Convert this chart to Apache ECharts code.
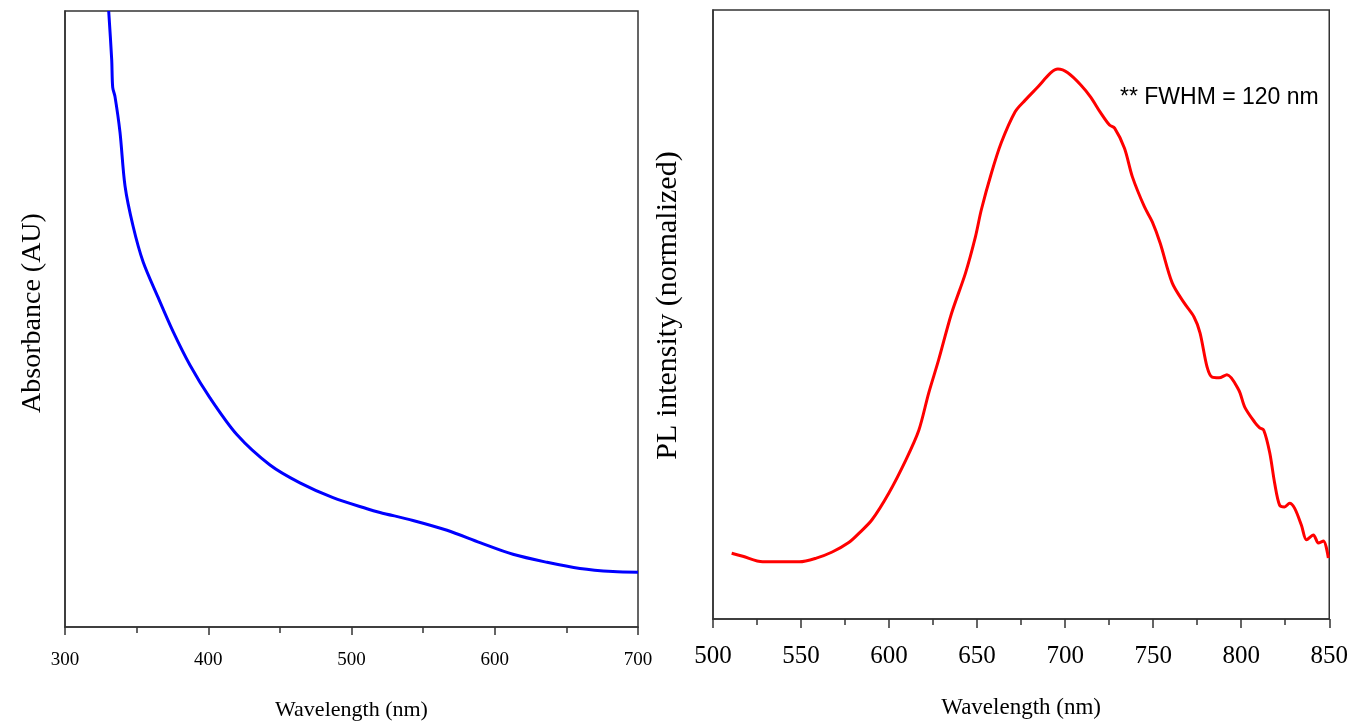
<!DOCTYPE html>
<html>
<head>
<meta charset="utf-8">
<script src="https://cdn.jsdelivr.net/npm/echarts@6/dist/echarts.min.js"></script>
<style>
html,body{margin:0;padding:0;background:#fff;}
#c{width:1351px;height:726px;}
</style>
</head>
<body>
<div id="c"></div>
<script>
// Absorbance spectrum (left), arbitrary units
const absWavelength = [330.5,332.6,333.3,334.9,338.4,341.9,347.5,354.5,365.0,375.4,387.3,401.2,420.1,443.1,464.0,487.1,510.8,519.9,542.9,566.7,589.7,612.7,636.5,659.5,682.5,700];
const absValue      = [100,92.1,87.6,86.1,80.3,71.6,65.1,59.3,53.5,48.0,42.5,37.2,31.2,26.3,23.4,21.0,19.2,18.6,17.3,15.7,13.7,11.8,10.5,9.5,9.0,8.9];

// PL spectrum (right), normalized
const plWavelength = [510.6,516.9,528.2,537.8,549.1,558.7,567.7,577.3,583.0,590.3,599.9,609.5,616.9,622.5,628.1,635.5,643.4,649.0,652.4,658.1,663.7,671.6,677.3,684.6,691.9,695.9,701.5,708.9,714.5,720.2,725.2,728.1,733.7,738.2,745.0,749.5,754.0,760.8,767.6,773.2,776.6,780.6,783.5,787.4,791.9,798.6,802.0,807.7,810.5,812.8,816.2,819.0,821.8,824.6,827.5,830.3,834.2,837.1,841.0,843.8,846.7,849.5];
const plValue      = [10.8,10.3,9.4,9.4,9.4,10.0,11.0,12.6,14.1,16.3,20.7,26.1,31.0,37.1,42.5,50.2,56.8,62.7,67.2,73.2,78.2,83.3,85.2,87.4,89.7,90.3,89.7,87.7,85.7,83.1,81.1,80.6,77.3,72.6,67.7,65.2,61.7,55.2,51.9,49.6,47.0,41.4,39.7,39.6,40.1,37.6,34.8,32.3,31.4,31.0,27.3,22.3,18.7,18.4,19.0,18.2,15.4,13.0,13.8,12.5,12.8,10.0];

const absTicks = {min:300, max:700, interval:100};
const plTicks  = {min:500, max:850, interval:50};
const annotation = "** FWHM = 120 nm";
const leftXName = "Wavelength (nm)", rightXName = "Wavelength (nm)";
const leftYName = "Absorbance (AU)", rightYName = "PL intensity (normalized)";

const serif = "'Liberation Serif','Times New Roman',serif";
const axisCol = '#333';

function pairs(xs, ys){ return xs.map((x,i)=>[x, ys[i]]); }

const chart = echarts.init(document.getElementById('c'), null, {renderer:'canvas'});
chart.setOption({
  backgroundColor:'#fff',
  animation:false,
  grid:[
    {left:65, top:11, width:573, height:620, show:true, borderColor:axisCol, borderWidth:1.5, backgroundColor:'transparent'},
    {left:713, top:10, width:624, height:609, show:true, borderColor:axisCol, borderWidth:1.5, backgroundColor:'transparent'}
  ],
  xAxis:[
    {gridIndex:0, type:'value', min:absTicks.min, max:absTicks.max, interval:absTicks.interval,
     name:leftXName, nameLocation:'middle', nameGap:72,
     nameTextStyle:{fontFamily:serif, fontSize:22, color:'#000'},
     axisLine:{show:true, lineStyle:{color:axisCol, width:1.5}},
     axisTick:{show:true, length:8, lineStyle:{color:axisCol, width:1.5}},
     minorTick:{show:true, splitNumber:2, length:6, lineStyle:{color:axisCol, width:1.5}},
     axisLabel:{fontFamily:serif, fontSize:19, color:'#000', margin:24},
     splitLine:{show:false}},
    {gridIndex:1, type:'value', min:plTicks.min, max:plTicks.max, interval:plTicks.interval,
     name:rightXName, nameLocation:'middle', nameGap:77,
     nameTextStyle:{fontFamily:serif, fontSize:23, color:'#000'},
     axisLine:{show:true, lineStyle:{color:axisCol, width:1.5}},
     axisTick:{show:true, length:9, lineStyle:{color:axisCol, width:1.5}},
     minorTick:{show:true, splitNumber:2, length:6, lineStyle:{color:axisCol, width:1.5}},
     axisLabel:{fontFamily:serif, fontSize:25, color:'#000', margin:25},
     splitLine:{show:false}}
  ],
  yAxis:[
    {gridIndex:0, type:'value', min:0, max:100,
     name:leftYName, nameLocation:'middle', nameGap:18, nameRotate:90,
     nameTextStyle:{fontFamily:serif, fontSize:28, color:'#000', padding:[0,0,0,12]},
     axisLine:{show:true, lineStyle:{color:axisCol, width:1.5}},
     axisTick:{show:false}, axisLabel:{show:false}, splitLine:{show:false}},
    {gridIndex:1, type:'value', min:0, max:100,
     name:rightYName, nameLocation:'middle', nameGap:30, nameRotate:90,
     nameTextStyle:{fontFamily:serif, fontSize:30, color:'#000', padding:[0,0,0,18]},
     axisLine:{show:true, lineStyle:{color:axisCol, width:1.5}},
     axisTick:{show:false}, axisLabel:{show:false}, splitLine:{show:false}}
  ],
  series:[
    {type:'line', xAxisIndex:0, yAxisIndex:0, data:pairs(absWavelength, absValue),
     showSymbol:false, smooth:0.3, clip:true, lineStyle:{color:'#0000ff', width:3}},
    {type:'line', xAxisIndex:1, yAxisIndex:1, data:pairs(plWavelength, plValue),
     showSymbol:false, smooth:0.3, clip:true, lineStyle:{color:'#ff0000', width:3}}
  ],
  graphic:[
    {type:'text', left:1120, top:86,
     style:{text:annotation, fontFamily:"'Liberation Sans',Arial,sans-serif", fontSize:23, fill:'#000'}}
  ]
});
</script>
</body>
</html>
